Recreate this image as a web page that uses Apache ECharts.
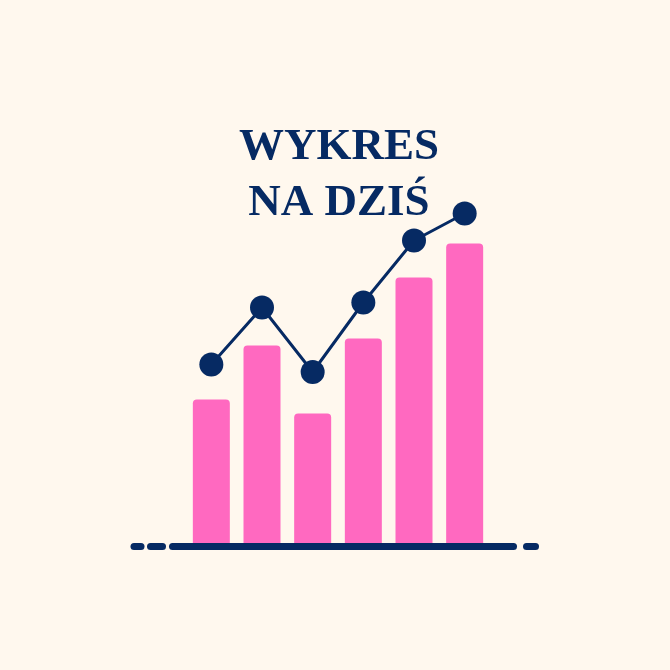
<!DOCTYPE html>
<html>
<head>
<meta charset="utf-8">
<script src="https://cdn.jsdelivr.net/npm/echarts@6/dist/echarts.min.js"></script>
<style>html,body{margin:0;padding:0;background:#FFF8EE;}#c{width:670px;height:670px;}</style>
</head>
<body>
<div id="c"></div>
<script>
const categories = ['1', '2', '3', '4', '5', '6'];
const barValues = [29.3, 40.1, 26.5, 41.5, 53.7, 60.5];
const lineValues = [36.3, 47.7, 34.8, 48.7, 61.1, 66.5];
const titleText = 'WYKRES\nNA DZIŚ';

const navy = '#062A63';
const pink = '#FF69C0';

const chart = echarts.init(document.getElementById('c'));
chart.setOption({
  backgroundColor: '#FFF8EE',
  animation: false,
  title: {
    text: titleText,
    left: 334,
    top: 114,
    textAlign: 'center',
    textStyle: { fontFamily: 'Liberation Serif', fontWeight: 'bold', fontSize: 45, lineHeight: 56, color: navy, align: 'center' }
  },
  grid: { left: 186, right: 180, top: 46, bottom: 124 },
  xAxis: {
    type: 'category', data: categories,
    axisLine: { show: false }, axisTick: { show: false }, axisLabel: { show: false }
  },
  yAxis: {
    type: 'value', min: 0, max: 100,
    axisLine: { show: false }, axisTick: { show: false }, axisLabel: { show: false }, splitLine: { show: false }
  },
  series: [
    {
      type: 'bar', data: barValues, barWidth: 37,
      itemStyle: { color: pink, borderRadius: [4, 4, 0, 0] }, z: 1
    },
    {
      type: 'line', data: lineValues, symbol: 'circle', symbolSize: 24,
      lineStyle: { color: navy, width: 3 }, itemStyle: { color: navy }, z: 3
    }
  ],
  graphic: [
    { type: 'line', shape: { x1: 134, y1: 546.5, x2: 141, y2: 546.5 }, style: { stroke: navy, lineWidth: 7, lineCap: 'round' }, z: 10 },
    { type: 'line', shape: { x1: 150.5, y1: 546.5, x2: 162.5, y2: 546.5 }, style: { stroke: navy, lineWidth: 7, lineCap: 'round' }, z: 10 },
    { type: 'line', shape: { x1: 172.5, y1: 546.5, x2: 513.5, y2: 546.5 }, style: { stroke: navy, lineWidth: 7, lineCap: 'round' }, z: 10 },
    { type: 'line', shape: { x1: 526.5, y1: 546.5, x2: 535.5, y2: 546.5 }, style: { stroke: navy, lineWidth: 7, lineCap: 'round' }, z: 10 }
  ]
});
</script>
</body>
</html>
